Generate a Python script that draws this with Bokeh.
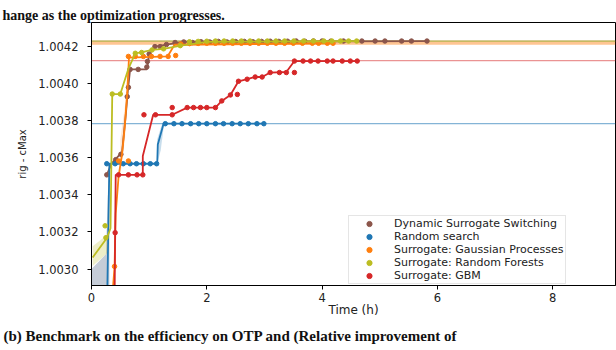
from bokeh.plotting import figure
from bokeh.models import Range1d, FixedTicker, PrintfTickFormatter, Span, Legend, LegendItem, Title
from bokeh.embed import file_html
from bokeh.resources import INLINE

# ---------------- data ----------------
x_ticks = [0, 2, 4, 6, 8]
y_ticks = [1.0030, 1.0032, 1.0034, 1.0036, 1.0038, 1.0040, 1.0042]

labels = ["Dynamic Surrogate Switching", "Random search", "Surrogate: Gaussian Processes",
          "Surrogate: Random Forests", "Surrogate: GBM"]

# Dynamic Surrogate Switching (brown)
dss_line_t = [0.265, 0.35, 0.47, 0.53, 0.60, 0.63, 0.67, 0.96, 0.97, 1.00, 1.10, 1.30, 1.60, 5.82]
dss_line_v = [1.003508, 1.003570, 1.003610, 1.003630, 1.003850, 1.003960, 1.004077, 1.004077,
              1.004090, 1.004160, 1.004200, 1.004211, 1.004225, 1.004230]
dss_pt_t = [0.265, 0.42, 0.51, 0.62, 0.64, 0.67, 0.81, 0.96, 0.97, 1.00, 1.10, 1.19, 1.30,
            1.45, 1.60, 1.75, 1.90, 2.05, 2.20, 2.35, 2.50, 2.65, 2.80, 2.95, 3.10, 3.25,
            3.40, 3.55, 3.70, 3.85, 4.00, 4.15, 4.37, 4.69, 4.92, 5.09, 5.38, 5.55, 5.82]
dss_pt_v = [1.003508, 1.003590, 1.003619, 1.003930, 1.003980, 1.004077, 1.004077, 1.004090,
            1.004120, 1.004160, 1.004200, 1.004200, 1.004211,
            1.004222, 1.004225, 1.004222, 1.004226, 1.004225, 1.004228, 1.004225, 1.004227,
            1.004228, 1.004226, 1.004228, 1.004229, 1.004228, 1.004229, 1.004230, 1.004229,
            1.004230, 1.004230, 1.004229, 1.004230, 1.004230, 1.004230, 1.004230, 1.004230,
            1.004230, 1.004230]
dss_best = 1.004230

# Random search (blue)
rs_line_t = [0.27, 0.31, 1.14, 1.15, 1.25, 2.99]
rs_line_v = [1.002800, 1.003568, 1.003568, 1.003672, 1.003784, 1.003784]
rs_pt_t = [0.265, 0.41, 0.55, 0.67, 0.78, 0.90, 1.02, 1.13,
           1.28, 1.43, 1.57, 1.72, 1.86, 2.00, 2.15, 2.29, 2.44, 2.58, 2.72, 2.87, 2.99]
rs_pt_v = [1.003568, 1.003568, 1.003568, 1.003568, 1.003568, 1.003568, 1.003568, 1.003568,
           1.003784, 1.003784, 1.003784, 1.003784, 1.003784, 1.003784, 1.003784, 1.003784,
           1.003784, 1.003784, 1.003784, 1.003784, 1.003784]
rs_best = 1.003784

# Surrogate: Gaussian Processes (orange)
gp_line_t = [0.36, 0.40, 0.42, 0.47, 0.53, 0.58, 0.62, 0.65, 1.32, 1.44, 4.19]
gp_line_v = [1.002850, 1.003010, 1.003300, 1.003500, 1.003620, 1.003780, 1.003950, 1.004140,
             1.004147, 1.004210, 1.004218]
gp_pt_t = [0.40, 0.47, 0.64, 0.64, 0.76, 0.90, 1.04, 1.19, 1.33, 1.46,
           1.55, 1.70, 1.85, 2.00, 2.15, 2.30, 2.45, 2.60, 2.75, 2.90, 3.05, 3.20, 3.35,
           3.50, 3.66, 3.83, 3.94, 4.09, 4.19]
gp_pt_v = [1.003014, 1.003583, 1.003583, 1.004147, 1.004147, 1.004147, 1.004147, 1.004147,
           1.004147, 1.004152,
           1.004214, 1.004216, 1.004217, 1.004218, 1.004218, 1.004218, 1.004218, 1.004218,
           1.004218, 1.004218, 1.004218, 1.004218, 1.004218, 1.004218, 1.004218, 1.004218,
           1.004218, 1.004218, 1.004218]
gp_best = 1.004218

# Surrogate: Random Forests (olive)
rf_line_t = [0.02, 0.27, 0.33, 0.36, 0.50, 0.64, 0.76, 0.88, 1.05, 1.25, 1.55, 2.00, 4.60]
rf_line_v = [1.003062, 1.003169, 1.003220, 1.003944, 1.003944, 1.004081, 1.004164, 1.004170,
             1.004182, 1.004188, 1.004205, 1.004226, 1.004230]
rf_pt_t = [0.236, 0.25, 0.36, 0.50, 0.76, 0.87, 1.05, 1.25, 1.54,
           1.70, 1.85, 2.00, 2.15, 2.30, 2.45, 2.60, 2.75, 2.90, 3.05, 3.20, 3.35,
           3.51, 3.68, 3.85, 4.03, 4.17, 4.32, 4.46, 4.60]
rf_pt_v = [1.003233, 1.003169, 1.003944, 1.003944, 1.004164, 1.004168, 1.004182, 1.004188,
           1.004205,
           1.004226, 1.004228, 1.004229, 1.004230, 1.004230, 1.004230, 1.004230, 1.004230,
           1.004230, 1.004230, 1.004230, 1.004230, 1.004230, 1.004230, 1.004230, 1.004230,
           1.004230, 1.004230, 1.004230, 1.004230]
rf_best = 1.004230

# Surrogate: GBM (red)
gbm_line_t = [0.40, 0.41, 0.42, 0.89, 0.89, 1.07, 1.40, 1.66, 2.15, 2.26, 2.41, 2.55, 2.70,
              2.84, 2.96, 3.10, 3.38, 3.52, 4.61]
gbm_line_v = [1.002800, 1.003196, 1.003508, 1.003508, 1.003610, 1.003832, 1.003832, 1.003871,
              1.003871, 1.003907, 1.003939, 1.004013, 1.004024, 1.004036, 1.004036, 1.004060,
              1.004063, 1.004122, 1.004122]
gbm_pt_t = [0.41, 0.47, 0.64, 0.79, 0.89, 0.91, 1.11, 1.40, 1.40, 1.66, 1.77, 1.89, 2.00,
            2.15, 2.26, 2.41, 2.53, 2.55, 2.70, 2.84, 2.96, 3.10, 3.26, 3.38, 3.52, 3.52,
            3.67, 3.80, 3.93, 4.09, 4.19, 4.35, 4.49, 4.61]
gbm_pt_v = [1.003196, 1.003508, 1.003508, 1.003508, 1.003508, 1.003832, 1.003832, 1.003832,
            1.003871, 1.003871, 1.003871, 1.003871, 1.003871, 1.003871, 1.003907, 1.003939,
            1.003942, 1.004013, 1.004024, 1.004036, 1.004036, 1.004060, 1.004060, 1.004060,
            1.004122, 1.004060, 1.004122, 1.004122, 1.004122, 1.004122, 1.004122, 1.004122,
            1.004122, 1.004122]
gbm_best = 1.004124

# confidence bands
band_rs_t = [0.00, 0.25, 0.28, 0.31]
band_rs_lo = [1.002800, 1.002800, 1.002800, 1.002800]
band_rs_hi = [1.003000, 1.003080, 1.003380, 1.003568]
band_rf_t = [0.02, 0.27]
band_rf_lo = [1.003016, 1.003085]
band_rf_hi = [1.003123, 1.003183]
band_gp_t = [0.50, 0.58, 0.62, 0.65]
band_gp_lo = [1.003500, 1.003700, 1.003880, 1.004100]
band_gp_hi = [1.003700, 1.003880, 1.004050, 1.004150]
band_rs2_t = [1.14, 1.20, 1.25]
band_rs2_lo = [1.003568, 1.003640, 1.003760]
band_rs2_hi = [1.003700, 1.003760, 1.003800]

top_caption = "hange as the optimization progresses."
bottom_caption = "(b) Benchmark on the efficiency on OTP and (Relative improvement of"

# ---------------- figure ----------------
C_BROWN, C_BLUE, C_ORANGE, C_OLIVE, C_RED = "#8c564b", "#1f77b4", "#ff7f0e", "#bcbd22", "#d62728"

X0, X1 = 0, 9.09
Y0, Y1 = 1.002911, 1.00433
W, H = 616, 350
L, R, T, B = 91, 1, 22, 62

p = figure(width=W, height=H, output_backend="svg", toolbar_location=None,
           x_range=Range1d(X0, X1), y_range=Range1d(Y0, Y1),
           min_border_left=L, min_border_right=R, min_border_top=T, min_border_bottom=B)
p.background_fill_color = "white"
p.border_fill_color = "white"
p.outline_line_color = "black"
p.outline_line_width = 1
p.xgrid.visible = False
p.ygrid.visible = False

# caption fragments from the surrounding page
p.title.text = top_caption
p.title.text_font = "Liberation Serif"
p.title.text_font_style = "bold"
p.title.text_font_size = "14px"
p.title.text_color = "#111111"
p.title.align = "left"
p.title.offset = -89
p.title.standoff = 0

for ax in (p.xaxis[0], p.yaxis[0]):
    ax.axis_line_color = "black"
    ax.major_tick_line_color = "black"
    ax.minor_tick_line_color = None
    ax.major_tick_out = 4
    ax.major_tick_in = 0
    ax.major_label_text_font = "DejaVu Sans"
    ax.major_label_text_font_size = "11.5px"
    ax.major_label_text_color = "#222222"
    ax.axis_label_text_font = "DejaVu Sans"
    ax.axis_label_text_font_style = "normal"
    ax.axis_label_text_color = "#222222"

p.xaxis.ticker = FixedTicker(ticks=x_ticks)
p.yaxis.ticker = FixedTicker(ticks=y_ticks)
p.yaxis.formatter = PrintfTickFormatter(format="%.4f")
p.xaxis.axis_label = "Time (h)"
p.xaxis.axis_label_text_font_size = "12px"
p.xaxis.major_label_standoff = 3
p.xaxis.axis_label_standoff = -2
p.yaxis.axis_label = "rig - cMax"
p.yaxis.axis_label_text_font_size = "10px"
p.yaxis.major_label_standoff = 9
p.yaxis.axis_label_standoff = 7

bottom_title = Title(text=bottom_caption, text_font="Liberation Serif", text_font_style="bold",
                     text_font_size="15px", text_color="#111111", align="left",
                     offset=-88, standoff=13)
p.add_layout(bottom_title, "below")

# bands
p.varea(x=band_rs_t, y1=band_rs_lo, y2=band_rs_hi, fill_color="#7f8fa6", fill_alpha=0.45)
p.varea(x=band_rf_t, y1=band_rf_lo, y2=band_rf_hi, fill_color=C_OLIVE, fill_alpha=0.25)
p.varea(x=band_gp_t, y1=band_gp_lo, y2=band_gp_hi, fill_color=C_ORANGE, fill_alpha=0.18)
p.varea(x=band_rs2_t, y1=band_rs2_lo, y2=band_rs2_hi, fill_color=C_BLUE, fill_alpha=0.25)

# best-value horizontal lines
for val, col, lw, al in [(rs_best, C_BLUE, 1.2, 0.55), (gbm_best, C_RED, 1.2, 0.5),
                         (gp_best, C_ORANGE, 3, 0.45), (dss_best, C_BROWN, 1.2, 0.5),
                         (rf_best, C_OLIVE, 1.2, 0.7)]:
    p.add_layout(Span(location=val, dimension="width", line_color=col,
                      line_width=lw, line_alpha=al, level="underlay"))

series = [
    (dss_line_t, dss_line_v, dss_pt_t, dss_pt_v, C_BROWN),
    (rs_line_t, rs_line_v, rs_pt_t, rs_pt_v, C_BLUE),
    (gp_line_t, gp_line_v, gp_pt_t, gp_pt_v, C_ORANGE),
    (rf_line_t, rf_line_v, rf_pt_t, rf_pt_v, C_OLIVE),
    (gbm_line_t, gbm_line_v, gbm_pt_t, gbm_pt_v, C_RED),
]
items = []
for (lt, lv, pt, pv, col), lab in zip(series, labels):
    p.line(lt, lv, line_color=col, line_width=1.8)
    r = p.scatter(pt, pv, marker="circle", size=4.5, fill_color=col, line_color=col)
    items.append(LegendItem(label=lab, renderers=[r]))

legend = Legend(items=items, location=(257, 1))
legend.label_text_font = "DejaVu Sans"
legend.label_text_font_size = "11px"
legend.label_text_color = "#222222"
legend.padding = 1
legend.margin = 0
legend.spacing = 0
legend.label_height = 13
legend.glyph_height = 13
legend.glyph_width = 38
legend.label_standoff = 6
legend.border_line_color = "#cccccc"
legend.background_fill_alpha = 0.85
p.add_layout(legend)

open("out.html", "w").write(file_html(p, INLINE))
